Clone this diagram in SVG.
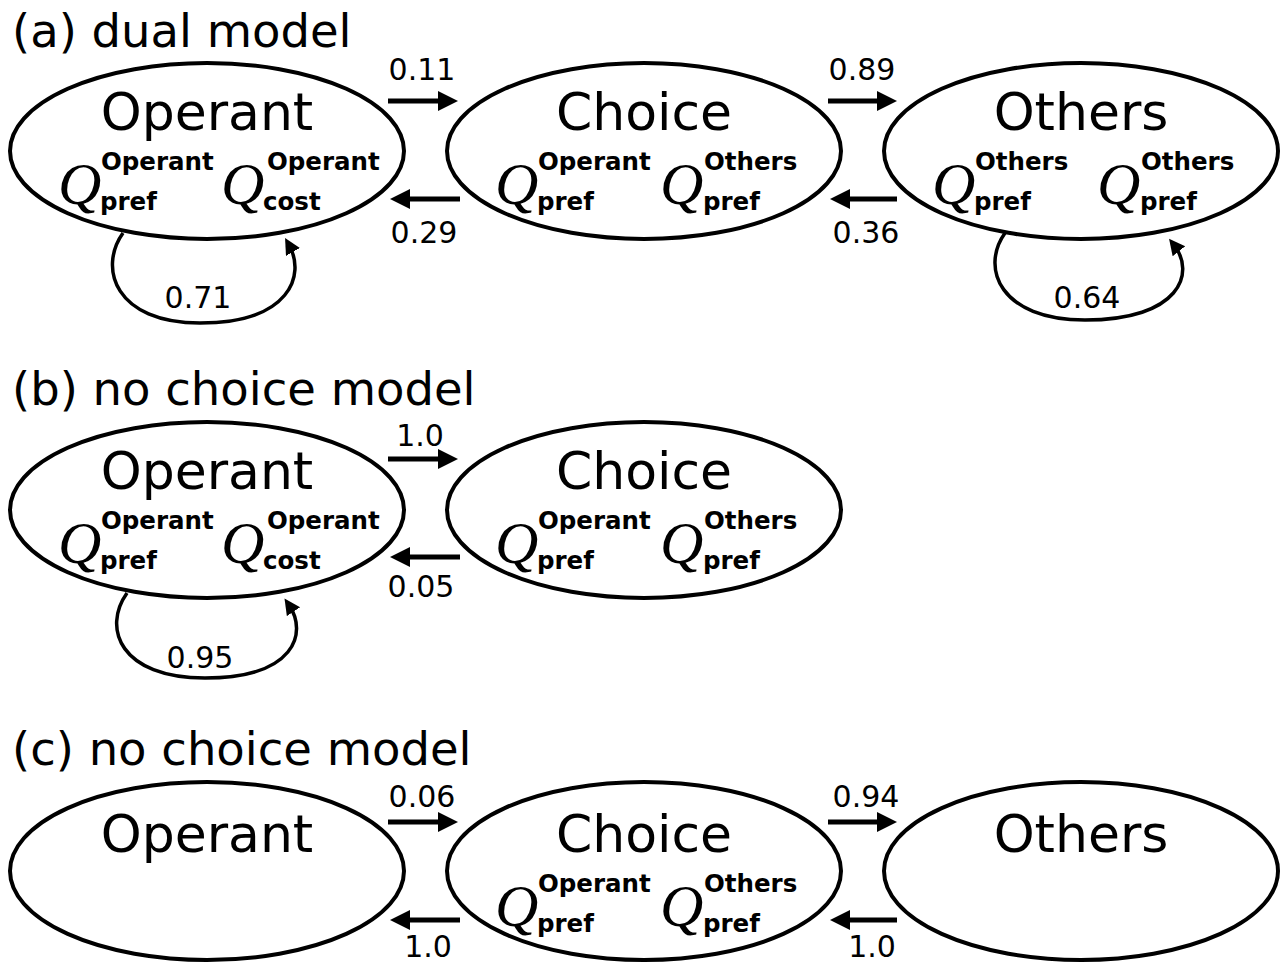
<svg xmlns="http://www.w3.org/2000/svg" width="1286" height="964" viewBox="0 0 1286 964">
<style>
text{fill:#000}
.hdr{font-family:"DejaVu Sans",sans-serif;font-size:46.5px}
.node ellipse{fill:#fff;stroke:#000;stroke-width:4}
.nm{font-family:"DejaVu Sans",sans-serif;font-size:52px;text-anchor:middle}
.q{font-family:"Liberation Serif",serif;font-style:italic;font-size:60px}
.s{font-family:"DejaVu Sans",sans-serif;font-weight:bold;font-size:24.5px}
.lbl{font-family:"DejaVu Sans",sans-serif;font-size:30px;text-anchor:middle}
.arr{stroke:#000;stroke-width:5;fill:none;marker-end:url(#ah)}
.loop{stroke:#000;stroke-width:3.5;fill:none;marker-end:url(#lh)}
</style>
<defs>
<marker id="ah" markerUnits="userSpaceOnUse" markerWidth="22" markerHeight="22" refX="10" refY="10" orient="auto"><path d="M0,0 L20,10 L0,20 z" fill="#000"/></marker>
<marker id="lh" markerUnits="userSpaceOnUse" markerWidth="18" markerHeight="18" refX="8" refY="8" orient="auto"><path d="M0,0 L16,8 L0,16 z" fill="#000"/></marker>
</defs>
<rect width="1286" height="964" fill="#fff"/>
<text class="hdr" x="12" y="47">(a) dual model</text>
<text class="hdr" x="12" y="405">(b) no choice model</text>
<text class="hdr" x="12" y="765">(c) no choice model</text>

<g id="connectors">
<path class="loop" d="M123,233 C98,268 115,323 200,323 C290,323 306,275 289,245"/>
<path class="loop" d="M1005,233 C980,268 1000,320 1085,320 C1180,320 1196,273 1174,245"/>
<path class="loop" d="M127,593 C102,628 120,678 205,678 C295,678 308,633 289,605"/>
<line class="arr" x1="388" y1="101" x2="448" y2="101"/>
<line class="arr" x1="460" y1="199" x2="400" y2="199"/>
<line class="arr" x1="828" y1="101" x2="887" y2="101"/>
<line class="arr" x1="897" y1="199" x2="840" y2="199"/>
<line class="arr" x1="388" y1="459" x2="448" y2="459"/>
<line class="arr" x1="460" y1="557" x2="400" y2="557"/>
<line class="arr" x1="388" y1="822" x2="448" y2="822"/>
<line class="arr" x1="460" y1="920" x2="400" y2="920"/>
<line class="arr" x1="828" y1="822" x2="887" y2="822"/>
<line class="arr" x1="897" y1="920" x2="840" y2="920"/>
<text class="lbl" x="422" y="80">0.11</text>
<text class="lbl" x="424" y="243">0.29</text>
<text class="lbl" x="862" y="80">0.89</text>
<text class="lbl" x="866" y="243">0.36</text>
<text class="lbl" x="198" y="308">0.71</text>
<text class="lbl" x="1087" y="308">0.64</text>
<text class="lbl" x="420" y="446">1.0</text>
<text class="lbl" x="421" y="597">0.05</text>
<text class="lbl" x="200" y="668">0.95</text>
<text class="lbl" x="422" y="807">0.06</text>
<text class="lbl" x="428" y="957">1.0</text>
<text class="lbl" x="866" y="807">0.94</text>
<text class="lbl" x="872" y="957">1.0</text>
</g>

<g id="a-operant" class="node">
<ellipse cx="207" cy="151" rx="197" ry="88"/>
<text class="nm" x="207" y="130">Operant</text>
<text class="q" x="58" y="204">Q</text><text class="s" x="101" y="170">Operant</text><text class="s" x="100" y="210">pref</text>
<text class="q" x="221" y="204">Q</text><text class="s" x="267" y="170">Operant</text><text class="s" x="263" y="210">cost</text>
</g>
<g id="a-choice" class="node">
<ellipse cx="644" cy="151" rx="197" ry="88"/>
<text class="nm" x="644" y="130">Choice</text>
<text class="q" x="495" y="204">Q</text><text class="s" x="538" y="170">Operant</text><text class="s" x="537" y="210">pref</text>
<text class="q" x="660" y="204">Q</text><text class="s" x="704" y="170">Others</text><text class="s" x="703" y="210">pref</text>
</g>
<g id="a-others" class="node">
<ellipse cx="1081" cy="151" rx="197" ry="88"/>
<text class="nm" x="1081" y="130">Others</text>
<text class="q" x="932" y="204">Q</text><text class="s" x="975" y="170">Others</text><text class="s" x="974" y="210">pref</text>
<text class="q" x="1097" y="204">Q</text><text class="s" x="1141" y="170">Others</text><text class="s" x="1140" y="210">pref</text>
</g>

<g id="b-operant" class="node">
<ellipse cx="207" cy="510" rx="197" ry="88"/>
<text class="nm" x="207" y="489">Operant</text>
<text class="q" x="58" y="563">Q</text><text class="s" x="101" y="529">Operant</text><text class="s" x="100" y="569">pref</text>
<text class="q" x="221" y="563">Q</text><text class="s" x="267" y="529">Operant</text><text class="s" x="263" y="569">cost</text>
</g>
<g id="b-choice" class="node">
<ellipse cx="644" cy="510" rx="197" ry="88"/>
<text class="nm" x="644" y="489">Choice</text>
<text class="q" x="495" y="563">Q</text><text class="s" x="538" y="529">Operant</text><text class="s" x="537" y="569">pref</text>
<text class="q" x="660" y="563">Q</text><text class="s" x="704" y="529">Others</text><text class="s" x="703" y="569">pref</text>
</g>

<g id="c-operant" class="node">
<ellipse cx="207" cy="871" rx="197" ry="89"/>
<text class="nm" x="207" y="852">Operant</text>
</g>
<g id="c-choice" class="node">
<ellipse cx="644" cy="871" rx="197" ry="89"/>
<text class="nm" x="644" y="852">Choice</text>
<text class="q" x="495" y="926">Q</text><text class="s" x="538" y="892">Operant</text><text class="s" x="537" y="932">pref</text>
<text class="q" x="660" y="926">Q</text><text class="s" x="704" y="892">Others</text><text class="s" x="703" y="932">pref</text>
</g>
<g id="c-others" class="node">
<ellipse cx="1081" cy="871" rx="197" ry="89"/>
<text class="nm" x="1081" y="852">Others</text>
</g>
</svg>
